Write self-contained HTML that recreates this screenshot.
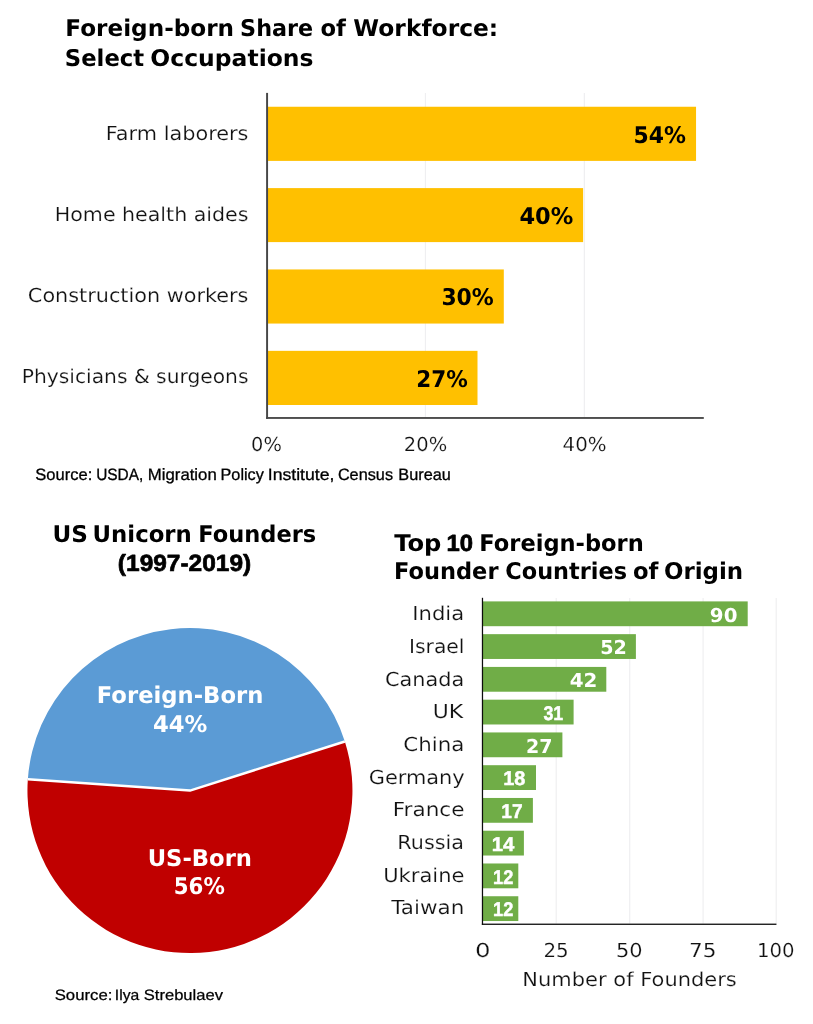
<!DOCTYPE html>
<html lang="en"><head><meta charset="utf-8"><title>Foreign-born Share of Workforce</title>
<style>
html,body{margin:0;padding:0;background:#fff;}
body{width:813px;height:1024px;overflow:hidden;}
svg{display:block;}
</style></head><body>
<svg width="813" height="1024" viewBox="0 0 813 1024" text-rendering="geometricPrecision">
<rect width="813" height="1024" fill="#fff"/>
<rect x="424.85" y="93.00" width="1.20" height="324.00" fill="#efeff1"/>
<rect x="583.75" y="93.00" width="1.20" height="324.00" fill="#efeff1"/>
<rect x="267.50" y="106.75" width="428.55" height="54.15" fill="#ffc000"/>
<rect x="267.50" y="188.10" width="315.60" height="54.00" fill="#ffc000"/>
<rect x="267.50" y="269.45" width="236.30" height="54.10" fill="#ffc000"/>
<rect x="267.50" y="350.85" width="210.00" height="54.15" fill="#ffc000"/>
<rect x="266.10" y="92.90" width="1.95" height="326.00" fill="#474747"/>
<rect x="266.10" y="417.05" width="437.70" height="1.85" fill="#474747"/>
<path d="M189.95,790.6 L344.84,741.46 A162.5,162.5 0 0 0 27.85,779.26 Z" fill="#5b9bd5"/>
<path d="M189.95,790.6 L27.85,779.26 A162.5,162.5 0 1 0 344.84,741.46 Z" fill="#c00000"/>
<path d="M344.84,741.46 L189.95,790.6 L27.85,779.26" fill="none" stroke="#fff" stroke-width="2.5" stroke-linejoin="round"/>
<rect x="555.60" y="598.00" width="1.20" height="325.60" fill="#efeff1"/>
<rect x="629.10" y="598.00" width="1.20" height="325.60" fill="#efeff1"/>
<rect x="702.50" y="598.00" width="1.20" height="325.60" fill="#efeff1"/>
<rect x="775.60" y="598.00" width="1.20" height="325.60" fill="#efeff1"/>
<rect x="483.00" y="601.40" width="264.70" height="24.80" fill="#70ad47"/>
<rect x="483.00" y="634.16" width="152.90" height="24.80" fill="#70ad47"/>
<rect x="483.00" y="666.92" width="123.30" height="24.80" fill="#70ad47"/>
<rect x="483.00" y="699.68" width="90.60" height="24.80" fill="#70ad47"/>
<rect x="483.00" y="732.44" width="79.40" height="24.80" fill="#70ad47"/>
<rect x="483.00" y="765.20" width="53.00" height="24.80" fill="#70ad47"/>
<rect x="483.00" y="797.96" width="49.90" height="24.80" fill="#70ad47"/>
<rect x="483.00" y="830.72" width="40.90" height="24.80" fill="#70ad47"/>
<rect x="483.00" y="863.48" width="35.30" height="24.80" fill="#70ad47"/>
<rect x="483.00" y="896.24" width="35.30" height="24.80" fill="#70ad47"/>
<rect x="481.85" y="597.80" width="1.25" height="327.10" fill="#0d0d0d"/>
<rect x="481.85" y="923.60" width="294.60" height="1.30" fill="#0d0d0d"/>
<text x="65.30" y="36.35" font-family="'DejaVu Sans', 'Liberation Sans', sans-serif" font-size="23.05" font-weight="bold" fill="#000" textLength="168.79" lengthAdjust="spacingAndGlyphs">Foreign-born</text>
<text x="240.09" y="36.35" font-family="'DejaVu Sans', 'Liberation Sans', sans-serif" font-size="23.05" font-weight="bold" fill="#000" textLength="73.14" lengthAdjust="spacingAndGlyphs">Share</text>
<text x="320.47" y="36.35" font-family="'DejaVu Sans', 'Liberation Sans', sans-serif" font-size="23.05" font-weight="bold" fill="#000" textLength="25.43" lengthAdjust="spacingAndGlyphs">of</text>
<text x="353.38" y="36.35" font-family="'DejaVu Sans', 'Liberation Sans', sans-serif" font-size="23.05" font-weight="bold" fill="#000" textLength="144.83" lengthAdjust="spacingAndGlyphs">Workforce:</text>
<text x="64.80" y="65.80" font-family="'DejaVu Sans', 'Liberation Sans', sans-serif" font-size="23.05" font-weight="bold" fill="#000" textLength="79.36" lengthAdjust="spacingAndGlyphs">Select</text>
<text x="150.38" y="65.80" font-family="'DejaVu Sans', 'Liberation Sans', sans-serif" font-size="23.05" font-weight="bold" fill="#000" textLength="163.08" lengthAdjust="spacingAndGlyphs">Occupations</text>
<text stroke="#fff" stroke-width="0.18" stroke-linejoin="round" x="105.80" y="139.60" font-family="'DejaVu Sans', 'Liberation Sans', sans-serif" font-size="19.20" font-weight="normal" fill="#111" textLength="142.67" lengthAdjust="spacingAndGlyphs">Farm laborers</text>
<text stroke="#fff" stroke-width="0.18" stroke-linejoin="round" x="54.81" y="221.30" font-family="'DejaVu Sans', 'Liberation Sans', sans-serif" font-size="19.20" font-weight="normal" fill="#111" textLength="193.65" lengthAdjust="spacingAndGlyphs">Home health aides</text>
<text stroke="#fff" stroke-width="0.18" stroke-linejoin="round" x="27.89" y="302.30" font-family="'DejaVu Sans', 'Liberation Sans', sans-serif" font-size="19.20" font-weight="normal" fill="#111" textLength="220.57" lengthAdjust="spacingAndGlyphs">Construction workers</text>
<text stroke="#fff" stroke-width="0.18" stroke-linejoin="round" x="21.82" y="383.40" font-family="'DejaVu Sans', 'Liberation Sans', sans-serif" font-size="19.20" font-weight="normal" fill="#111" textLength="226.65" lengthAdjust="spacingAndGlyphs">Physicians &amp; surgeons</text>
<text x="633.43" y="142.60" font-family="'DejaVu Sans', 'Liberation Sans', sans-serif" font-size="23.05" font-weight="bold" fill="#000" textLength="52.40" lengthAdjust="spacingAndGlyphs">54%</text>
<text x="519.42" y="223.60" font-family="'DejaVu Sans', 'Liberation Sans', sans-serif" font-size="23.05" font-weight="bold" fill="#000" textLength="53.85" lengthAdjust="spacingAndGlyphs">40%</text>
<text x="441.39" y="304.70" font-family="'DejaVu Sans', 'Liberation Sans', sans-serif" font-size="23.05" font-weight="bold" fill="#000" textLength="52.44" lengthAdjust="spacingAndGlyphs">30%</text>
<text x="416.27" y="386.60" font-family="'DejaVu Sans', 'Liberation Sans', sans-serif" font-size="23.05" font-weight="bold" fill="#000" textLength="51.52" lengthAdjust="spacingAndGlyphs">27%</text>
<text stroke="#fff" stroke-width="0.18" stroke-linejoin="round" x="251.14" y="451.20" font-family="'DejaVu Sans', 'Liberation Sans', sans-serif" font-size="19.20" font-weight="normal" fill="#111" textLength="30.77" lengthAdjust="spacingAndGlyphs">0%</text>
<text stroke="#fff" stroke-width="0.18" stroke-linejoin="round" x="403.85" y="451.20" font-family="'DejaVu Sans', 'Liberation Sans', sans-serif" font-size="19.20" font-weight="normal" fill="#111" textLength="43.32" lengthAdjust="spacingAndGlyphs">20%</text>
<text stroke="#fff" stroke-width="0.18" stroke-linejoin="round" x="562.59" y="451.20" font-family="'DejaVu Sans', 'Liberation Sans', sans-serif" font-size="19.20" font-weight="normal" fill="#111" textLength="44.08" lengthAdjust="spacingAndGlyphs">40%</text>
<text stroke="#000" stroke-width="0.3" stroke-linejoin="round" x="35.33" y="479.60" font-family="'Liberation Sans', sans-serif" font-size="16.41" font-weight="normal" fill="#000" textLength="56.92" lengthAdjust="spacingAndGlyphs">Source:</text>
<text stroke="#000" stroke-width="0.3" stroke-linejoin="round" x="96.15" y="479.60" font-family="'Liberation Sans', sans-serif" font-size="16.41" font-weight="normal" fill="#000" textLength="47.17" lengthAdjust="spacingAndGlyphs">USDA,</text>
<text stroke="#000" stroke-width="0.3" stroke-linejoin="round" x="147.82" y="479.60" font-family="'Liberation Sans', sans-serif" font-size="16.41" font-weight="normal" fill="#000" textLength="68.91" lengthAdjust="spacingAndGlyphs">Migration</text>
<text stroke="#000" stroke-width="0.3" stroke-linejoin="round" x="220.52" y="479.60" font-family="'Liberation Sans', sans-serif" font-size="16.41" font-weight="normal" fill="#000" textLength="43.33" lengthAdjust="spacingAndGlyphs">Policy</text>
<text stroke="#000" stroke-width="0.3" stroke-linejoin="round" x="267.74" y="479.60" font-family="'Liberation Sans', sans-serif" font-size="16.41" font-weight="normal" fill="#000" textLength="66.72" lengthAdjust="spacingAndGlyphs">Institute,</text>
<text stroke="#000" stroke-width="0.3" stroke-linejoin="round" x="337.89" y="479.60" font-family="'Liberation Sans', sans-serif" font-size="16.41" font-weight="normal" fill="#000" textLength="55.17" lengthAdjust="spacingAndGlyphs">Census</text>
<text stroke="#000" stroke-width="0.3" stroke-linejoin="round" x="398.35" y="479.60" font-family="'Liberation Sans', sans-serif" font-size="16.41" font-weight="normal" fill="#000" textLength="52.44" lengthAdjust="spacingAndGlyphs">Bureau</text>
<text x="52.51" y="542.20" font-family="'DejaVu Sans', 'Liberation Sans', sans-serif" font-size="23.05" font-weight="bold" fill="#000" textLength="35.46" lengthAdjust="spacingAndGlyphs">US</text>
<text x="92.57" y="542.20" font-family="'DejaVu Sans', 'Liberation Sans', sans-serif" font-size="23.05" font-weight="bold" fill="#000" textLength="99.25" lengthAdjust="spacingAndGlyphs">Unicorn</text>
<text x="198.25" y="542.20" font-family="'DejaVu Sans', 'Liberation Sans', sans-serif" font-size="23.05" font-weight="bold" fill="#000" textLength="117.93" lengthAdjust="spacingAndGlyphs">Founders</text>
<text stroke="#000" stroke-width="0.7" stroke-linejoin="round" x="117.89" y="570.50" font-family="'Liberation Sans', sans-serif" font-size="23.38" font-weight="bold" fill="#000" textLength="133.32" lengthAdjust="spacingAndGlyphs">(1997-2019)</text>
<text x="96.80" y="703.20" font-family="'DejaVu Sans', 'Liberation Sans', sans-serif" font-size="23.05" font-weight="bold" fill="#fff" textLength="166.54" lengthAdjust="spacingAndGlyphs">Foreign-Born</text>
<text x="152.97" y="731.60" font-family="'DejaVu Sans', 'Liberation Sans', sans-serif" font-size="23.05" font-weight="bold" fill="#fff" textLength="54.35" lengthAdjust="spacingAndGlyphs">44%</text>
<text x="147.72" y="865.80" font-family="'DejaVu Sans', 'Liberation Sans', sans-serif" font-size="23.05" font-weight="bold" fill="#fff" textLength="104.29" lengthAdjust="spacingAndGlyphs">US-Born</text>
<text x="173.78" y="894.40" font-family="'DejaVu Sans', 'Liberation Sans', sans-serif" font-size="23.05" font-weight="bold" fill="#fff" textLength="51.06" lengthAdjust="spacingAndGlyphs">56%</text>
<text stroke="#000" stroke-width="0.25" stroke-linejoin="round" x="54.67" y="999.80" font-family="'Liberation Sans', sans-serif" font-size="14.96" font-weight="normal" fill="#000" textLength="57.73" lengthAdjust="spacingAndGlyphs">Source:</text>
<text stroke="#000" stroke-width="0.25" stroke-linejoin="round" x="114.89" y="999.80" font-family="'Liberation Sans', sans-serif" font-size="14.96" font-weight="normal" fill="#000" textLength="24.45" lengthAdjust="spacingAndGlyphs">Ilya</text>
<text stroke="#000" stroke-width="0.25" stroke-linejoin="round" x="143.74" y="999.80" font-family="'Liberation Sans', sans-serif" font-size="14.96" font-weight="normal" fill="#000" textLength="79.26" lengthAdjust="spacingAndGlyphs">Strebulaev</text>
<text x="394.19" y="550.50" font-family="'DejaVu Sans', 'Liberation Sans', sans-serif" font-size="23.05" font-weight="bold" fill="#000" textLength="47.18" lengthAdjust="spacingAndGlyphs">Top</text>
<text stroke="#000" stroke-width="0.7" stroke-linejoin="round" x="446.62" y="550.50" font-family="'Liberation Sans', sans-serif" font-size="23.38" font-weight="bold" fill="#000" textLength="26.53" lengthAdjust="spacingAndGlyphs">10</text>
<text x="479.30" y="550.50" font-family="'DejaVu Sans', 'Liberation Sans', sans-serif" font-size="23.05" font-weight="bold" fill="#000" textLength="164.49" lengthAdjust="spacingAndGlyphs">Foreign-born</text>
<text x="394.06" y="578.80" font-family="'DejaVu Sans', 'Liberation Sans', sans-serif" font-size="23.05" font-weight="bold" fill="#000" textLength="104.44" lengthAdjust="spacingAndGlyphs">Founder</text>
<text x="505.33" y="578.80" font-family="'DejaVu Sans', 'Liberation Sans', sans-serif" font-size="23.05" font-weight="bold" fill="#000" textLength="121.69" lengthAdjust="spacingAndGlyphs">Countries</text>
<text x="632.97" y="578.80" font-family="'DejaVu Sans', 'Liberation Sans', sans-serif" font-size="23.05" font-weight="bold" fill="#000" textLength="25.43" lengthAdjust="spacingAndGlyphs">of</text>
<text x="663.96" y="578.80" font-family="'DejaVu Sans', 'Liberation Sans', sans-serif" font-size="23.05" font-weight="bold" fill="#000" textLength="79.20" lengthAdjust="spacingAndGlyphs">Origin</text>
<text stroke="#fff" stroke-width="0.18" stroke-linejoin="round" x="412.32" y="620.10" font-family="'DejaVu Sans', 'Liberation Sans', sans-serif" font-size="19.20" font-weight="normal" fill="#111" textLength="51.84" lengthAdjust="spacingAndGlyphs">India</text>
<text x="709.88" y="621.50" font-family="'DejaVu Sans', 'Liberation Sans', sans-serif" font-size="19.20" font-weight="bold" fill="#fff" textLength="27.58" lengthAdjust="spacingAndGlyphs">90</text>
<text stroke="#fff" stroke-width="0.18" stroke-linejoin="round" x="408.99" y="652.80" font-family="'DejaVu Sans', 'Liberation Sans', sans-serif" font-size="19.20" font-weight="normal" fill="#111" textLength="55.51" lengthAdjust="spacingAndGlyphs">Israel</text>
<text x="600.21" y="654.26" font-family="'DejaVu Sans', 'Liberation Sans', sans-serif" font-size="19.20" font-weight="bold" fill="#fff" textLength="26.61" lengthAdjust="spacingAndGlyphs">52</text>
<text stroke="#fff" stroke-width="0.18" stroke-linejoin="round" x="384.99" y="685.50" font-family="'DejaVu Sans', 'Liberation Sans', sans-serif" font-size="19.20" font-weight="normal" fill="#111" textLength="79.24" lengthAdjust="spacingAndGlyphs">Canada</text>
<text x="569.67" y="687.02" font-family="'DejaVu Sans', 'Liberation Sans', sans-serif" font-size="19.20" font-weight="bold" fill="#fff" textLength="27.64" lengthAdjust="spacingAndGlyphs">42</text>
<text stroke="#fff" stroke-width="0.18" stroke-linejoin="round" x="432.68" y="718.20" font-family="'DejaVu Sans', 'Liberation Sans', sans-serif" font-size="19.20" font-weight="normal" fill="#111" textLength="30.53" lengthAdjust="spacingAndGlyphs">UK</text>
<text stroke="#fff" stroke-width="0.45" stroke-linejoin="round" x="543.39" y="719.78" font-family="'Liberation Sans', sans-serif" font-size="19.90" font-weight="bold" fill="#fff" textLength="19.82" lengthAdjust="spacingAndGlyphs">31</text>
<text stroke="#fff" stroke-width="0.18" stroke-linejoin="round" x="403.38" y="750.90" font-family="'DejaVu Sans', 'Liberation Sans', sans-serif" font-size="19.20" font-weight="normal" fill="#111" textLength="61.09" lengthAdjust="spacingAndGlyphs">China</text>
<text x="525.94" y="752.54" font-family="'DejaVu Sans', 'Liberation Sans', sans-serif" font-size="19.20" font-weight="bold" fill="#fff" textLength="26.47" lengthAdjust="spacingAndGlyphs">27</text>
<text stroke="#fff" stroke-width="0.18" stroke-linejoin="round" x="368.72" y="783.60" font-family="'DejaVu Sans', 'Liberation Sans', sans-serif" font-size="19.20" font-weight="normal" fill="#111" textLength="96.00" lengthAdjust="spacingAndGlyphs">Germany</text>
<text stroke="#fff" stroke-width="0.45" stroke-linejoin="round" x="503.22" y="785.30" font-family="'Liberation Sans', sans-serif" font-size="19.90" font-weight="bold" fill="#fff" textLength="22.16" lengthAdjust="spacingAndGlyphs">18</text>
<text stroke="#fff" stroke-width="0.18" stroke-linejoin="round" x="392.75" y="816.30" font-family="'DejaVu Sans', 'Liberation Sans', sans-serif" font-size="19.20" font-weight="normal" fill="#111" textLength="71.77" lengthAdjust="spacingAndGlyphs">France</text>
<text stroke="#fff" stroke-width="0.45" stroke-linejoin="round" x="501.24" y="818.06" font-family="'Liberation Sans', sans-serif" font-size="19.90" font-weight="bold" fill="#fff" textLength="21.30" lengthAdjust="spacingAndGlyphs">17</text>
<text stroke="#fff" stroke-width="0.18" stroke-linejoin="round" x="397.37" y="849.00" font-family="'DejaVu Sans', 'Liberation Sans', sans-serif" font-size="19.20" font-weight="normal" fill="#111" textLength="66.65" lengthAdjust="spacingAndGlyphs">Russia</text>
<text stroke="#fff" stroke-width="0.45" stroke-linejoin="round" x="491.82" y="850.82" font-family="'Liberation Sans', sans-serif" font-size="19.90" font-weight="bold" fill="#fff" textLength="22.58" lengthAdjust="spacingAndGlyphs">14</text>
<text stroke="#fff" stroke-width="0.18" stroke-linejoin="round" x="383.23" y="881.70" font-family="'DejaVu Sans', 'Liberation Sans', sans-serif" font-size="19.20" font-weight="normal" fill="#111" textLength="81.28" lengthAdjust="spacingAndGlyphs">Ukraine</text>
<text stroke="#fff" stroke-width="0.45" stroke-linejoin="round" x="493.03" y="883.58" font-family="'Liberation Sans', sans-serif" font-size="19.90" font-weight="bold" fill="#fff" textLength="20.30" lengthAdjust="spacingAndGlyphs">12</text>
<text stroke="#fff" stroke-width="0.18" stroke-linejoin="round" x="391.30" y="914.40" font-family="'DejaVu Sans', 'Liberation Sans', sans-serif" font-size="19.20" font-weight="normal" fill="#111" textLength="73.10" lengthAdjust="spacingAndGlyphs">Taiwan</text>
<text stroke="#fff" stroke-width="0.45" stroke-linejoin="round" x="493.03" y="916.34" font-family="'Liberation Sans', sans-serif" font-size="19.90" font-weight="bold" fill="#fff" textLength="20.30" lengthAdjust="spacingAndGlyphs">12</text>
<text stroke="#fff" stroke-width="0.18" stroke-linejoin="round" x="474.91" y="957.20" font-family="'DejaVu Sans', 'Liberation Sans', sans-serif" font-size="19.20" font-weight="normal" fill="#111" textLength="15.57" lengthAdjust="spacingAndGlyphs">0</text>
<text stroke="#fff" stroke-width="0.18" stroke-linejoin="round" x="543.40" y="957.20" font-family="'DejaVu Sans', 'Liberation Sans', sans-serif" font-size="19.20" font-weight="normal" fill="#111" textLength="25.36" lengthAdjust="spacingAndGlyphs">25</text>
<text stroke="#fff" stroke-width="0.18" stroke-linejoin="round" x="615.93" y="957.20" font-family="'DejaVu Sans', 'Liberation Sans', sans-serif" font-size="19.20" font-weight="normal" fill="#111" textLength="26.66" lengthAdjust="spacingAndGlyphs">50</text>
<text stroke="#fff" stroke-width="0.18" stroke-linejoin="round" x="689.09" y="957.20" font-family="'DejaVu Sans', 'Liberation Sans', sans-serif" font-size="19.20" font-weight="normal" fill="#111" textLength="27.45" lengthAdjust="spacingAndGlyphs">75</text>
<text stroke="#fff" stroke-width="0.18" stroke-linejoin="round" x="756.98" y="957.20" font-family="'DejaVu Sans', 'Liberation Sans', sans-serif" font-size="19.20" font-weight="normal" fill="#111" textLength="37.57" lengthAdjust="spacingAndGlyphs">100</text>
<text stroke="#fff" stroke-width="0.18" stroke-linejoin="round" x="522.37" y="985.90" font-family="'DejaVu Sans', 'Liberation Sans', sans-serif" font-size="19.20" font-weight="normal" fill="#111" textLength="214.45" lengthAdjust="spacingAndGlyphs">Number of Founders</text>
</svg>
</body></html>
